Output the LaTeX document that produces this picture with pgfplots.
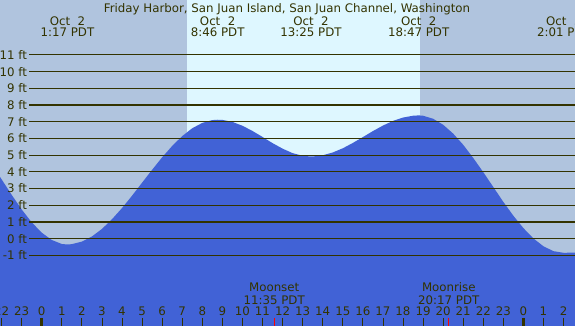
\documentclass[border=0pt]{standalone}
\usepackage{pgfplots}
\pgfplotsset{compat=1.18}
\usepackage{fontspec}
\setmainfont{DejaVu Sans}
\definecolor{night}{RGB}{176,196,222}
\definecolor{day}{RGB}{222,247,255}
\definecolor{water}{RGB}{65,98,214}
\definecolor{ink}{RGB}{51,51,0}
\tikzset{lbl/.style={text=ink, inner sep=0pt, font=\fontsize{11.8}{14}\selectfont}}
\begin{document}
\begin{tikzpicture}
\useasboundingbox (0,0) rectangle (575pt,326pt);
\clip (0,0) rectangle (575pt,326pt);
\begin{axis}[at={(0,0)}, anchor=south west, scale only axis, width=575pt, height=326pt,
  xmin=-2.078, xmax=26.57, ymin=-5.23, ymax=14.29, axis lines=none, clip=false]
% backgrounds
\addplot[fill=night, draw=none] coordinates {(-2.078,-5.23) (-2.078,14.29) (26.57,14.29) (26.57,-5.23)};
\addplot[fill=day, draw=none] coordinates {(7.22,-5.23) (7.22,14.29) (18.85,14.29) (18.85,-5.23)};
% tide
\addplot[fill=water, draw=none] coordinates {
(-2.078,-5.23) (-2.078,3.70) (-1.5,2.63) (-1.0,1.75) (-0.5,0.98) (0,0.36) (0.5,-0.08) (1.0,-0.32) (1.283,-0.35)
(1.5,-0.33) (2,-0.18) (2.5,0.13) (3,0.58) (3.5,1.16) (4,1.83) (4.5,2.57) (5,3.35) (5.5,4.12) (6,4.87)
(6.5,5.55) (7,6.14) (7.5,6.61) (8,6.93) (8.5,7.10) (8.767,7.12)
(9,7.11) (9.5,6.99) (10,6.76) (10.5,6.45) (11,6.09) (11.5,5.72) (12,5.39) (12.5,5.12) (13,4.96) (13.417,4.92)
(13.5,4.92) (14,4.99) (14.5,5.16) (15,5.41) (15.5,5.73) (16,6.08) (16.5,6.44) (17,6.77) (17.5,7.05) (18,7.25) (18.5,7.36) (18.783,7.38)
(19,7.36) (19.5,7.18) (20,6.82) (20.5,6.29) (21,5.62) (21.5,4.83) (22,3.98) (22.5,3.09) (23,2.20) (23.5,1.37)
(24,0.63) (24.5,0.01) (25,-0.46) (25.5,-0.75) (26.017,-0.85) (26.57,-0.83) (26.57,-5.23)};
% grid lines and labels
\pgfplotsinvokeforeach{-1,...,11}{
  \draw[ink, line width=1.1pt] (axis cs:-0.633,#1) -- (axis cs:26.57,#1);
  \node[lbl, anchor=east] at (axis cs:-0.72,#1) {#1 ft};
}
% title and tide labels
\node[lbl, anchor=base] at (axis cs:12.22,13.57) {Friday Harbor, San Juan Island, San Juan Channel, Washington};
\node[lbl, anchor=base] at (axis cs:1.283,12.79) {Oct\ \ 2};
\node[lbl, anchor=base] at (axis cs:1.283,12.13) {1:17 PDT};
\node[lbl, anchor=base] at (axis cs:8.767,12.79) {Oct\ \ 2};
\node[lbl, anchor=base] at (axis cs:8.767,12.13) {8:46 PDT};
\node[lbl, anchor=base] at (axis cs:13.417,12.79) {Oct\ \ 2};
\node[lbl, anchor=base] at (axis cs:13.417,12.13) {13:25 PDT};
\node[lbl, anchor=base] at (axis cs:18.783,12.79) {Oct\ \ 2};
\node[lbl, anchor=base] at (axis cs:18.783,12.13) {18:47 PDT};
\node[lbl, anchor=base] at (axis cs:26.017,12.79) {Oct\ \ 3};
\node[lbl, anchor=base] at (axis cs:26.017,12.13) {2:01 PDT};
% moon
\node[lbl, anchor=base] at (axis cs:11.583,-3.18) {Moonset};
\node[lbl, anchor=base] at (axis cs:11.583,-3.92) {11:35 PDT};
\node[lbl, anchor=base] at (axis cs:20.283,-3.18) {Moonrise};
\node[lbl, anchor=base] at (axis cs:20.283,-3.92) {20:17 PDT};
% hour ticks
\pgfplotsinvokeforeach{-2,...,26}{
  \draw[ink, line width=0.8pt] (axis cs:#1,-4.75) -- (axis cs:#1,-5.3);
}
\draw[ink, line width=3.5pt] (axis cs:0,-4.75) -- (axis cs:0,-5.3);
\draw[ink, line width=3.5pt] (axis cs:24,-4.75) -- (axis cs:24,-5.3);
\draw[red, line width=0.8pt] (axis cs:11.583,-4.75) -- (axis cs:11.583,-5.3);
\draw[red, line width=0.8pt] (axis cs:20.283,-4.75) -- (axis cs:20.283,-5.3);
% hour labels
\node[lbl, anchor=base] at (axis cs:-2,-4.63) {22};
\node[lbl, anchor=base] at (axis cs:-1,-4.63) {23};
\node[lbl, anchor=base] at (axis cs:0,-4.63) {0};
\node[lbl, anchor=base] at (axis cs:1,-4.63) {1};
\node[lbl, anchor=base] at (axis cs:2,-4.63) {2};
\node[lbl, anchor=base] at (axis cs:3,-4.63) {3};
\node[lbl, anchor=base] at (axis cs:4,-4.63) {4};
\node[lbl, anchor=base] at (axis cs:5,-4.63) {5};
\node[lbl, anchor=base] at (axis cs:6,-4.63) {6};
\node[lbl, anchor=base] at (axis cs:7,-4.63) {7};
\node[lbl, anchor=base] at (axis cs:8,-4.63) {8};
\node[lbl, anchor=base] at (axis cs:9,-4.63) {9};
\node[lbl, anchor=base] at (axis cs:10,-4.63) {10};
\node[lbl, anchor=base] at (axis cs:11,-4.63) {11};
\node[lbl, anchor=base] at (axis cs:12,-4.63) {12};
\node[lbl, anchor=base] at (axis cs:13,-4.63) {13};
\node[lbl, anchor=base] at (axis cs:14,-4.63) {14};
\node[lbl, anchor=base] at (axis cs:15,-4.63) {15};
\node[lbl, anchor=base] at (axis cs:16,-4.63) {16};
\node[lbl, anchor=base] at (axis cs:17,-4.63) {17};
\node[lbl, anchor=base] at (axis cs:18,-4.63) {18};
\node[lbl, anchor=base] at (axis cs:19,-4.63) {19};
\node[lbl, anchor=base] at (axis cs:20,-4.63) {20};
\node[lbl, anchor=base] at (axis cs:21,-4.63) {21};
\node[lbl, anchor=base] at (axis cs:22,-4.63) {22};
\node[lbl, anchor=base] at (axis cs:23,-4.63) {23};
\node[lbl, anchor=base] at (axis cs:24,-4.63) {0};
\node[lbl, anchor=base] at (axis cs:25,-4.63) {1};
\node[lbl, anchor=base] at (axis cs:26,-4.63) {2};
\end{axis}
\end{tikzpicture}
\end{document}
